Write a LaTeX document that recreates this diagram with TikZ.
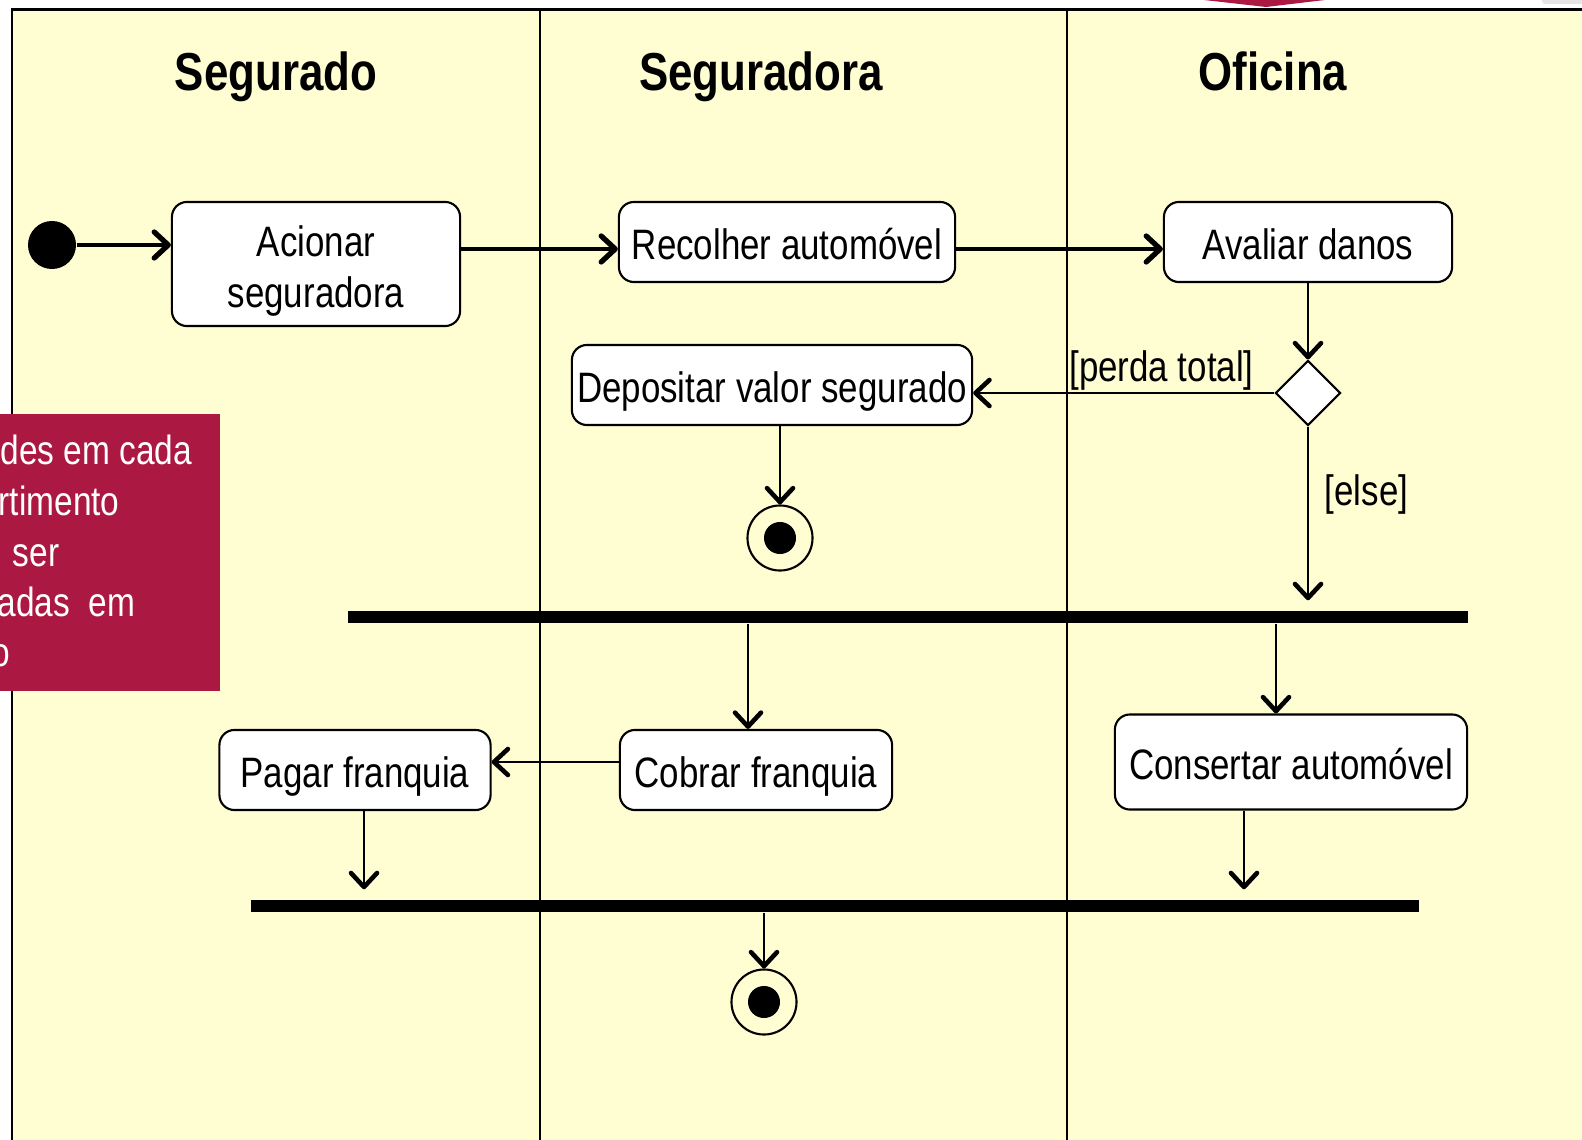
\documentclass[tikz,border=0pt]{standalone}
\usepackage{fontspec}
\setmainfont{Liberation Sans}[FakeStretch=0.82]
\usetikzlibrary{arrows.meta,shapes.geometric}
\definecolor{lanebg}{HTML}{FFFDD2}
\definecolor{notered}{HTML}{AB1942}
\newcommand{\actstrut}{\rule[-2.5pt]{0pt}{15.2pt}}
\tikzset{
  act/.style={draw, rounded corners=0.15cm, fill=white, line width=0.6pt, inner sep=0pt, align=center, font=\fontsize{12.1}{14.3}\selectfont, execute at begin node={\actstrut}},
  flow/.style={-{Straight Barb[length=1.4mm,width=2.6mm,line width=1.3pt,round]}, line width=0.6pt},
  bigflow/.style={-{Straight Barb[length=1.4mm,width=2.6mm,line width=1.5pt,round]}, line width=1pt},
  bar/.style={fill=black, inner sep=0pt, minimum height=0.12cm},
  lane/.style={font=\bfseries\fontsize{15.2}{18}\selectfont, anchor=base},
  guard/.style={font=\fontsize{12.1}{14}\selectfont},
  finalnode/.style={circle, draw, line width=0.6pt, minimum size=0.65cm, inner sep=0pt},
  notetext/.style={anchor=base west, inner sep=0pt, text=white, font=\fontsize{11.6}{14}\selectfont}
}
\begin{document}
\begin{tikzpicture}[x=0.01cm, y=-0.01cm]
            \useasboundingbox (0,0) rectangle (1582,1140);
            \fill[lanebg] (12,10) rectangle (1582,1140);
            \fill[notered] (1204,0) -- (1325,0) -- (1266,7) -- cycle;
            \fill[gray!20, rounded corners=0.03cm] (1542,-5) rectangle (1590,4);
            \draw[line width=0.85pt] (12,1140) -- (12,10) -- (1582,10);
            \draw[line width=0.6pt] (540,10) -- (540,1140);
            \draw[line width=0.6pt] (1067,10) -- (1067,1140);
            \node[lane] (segurado) at (276,91) {Segurado};
            \node[lane] (seguradora) at (761,91) {Seguradora};
            \node[lane] (oficina) at (1273,91) {Oficina};
            \node[circle, fill=black, minimum size=0.48cm, inner sep=0pt] (ini) at (52,245) {};
            \node[act, minimum width=2.88cm, minimum height=1.24cm] (acionar) at (316,264) {\actstrut Acionar\\seguradora};
            \node[act, minimum width=3.36cm, minimum height=0.80cm] (recolher) at (787,242) {Recolher automóvel};
            \node[act, minimum width=2.88cm, minimum height=0.80cm] (avaliar) at (1308,242) {Avaliar danos};
            \node[diamond, draw, fill=white, line width=0.6pt, minimum width=0.65cm, minimum height=0.65cm, inner sep=0pt] (dec) at (1308,393) {};
            \node[act, minimum width=4.0cm, minimum height=0.80cm] (depositar) at (772,385) {Depositar valor segurado};
            \node[finalnode] (fim1) at (780,538) {};
            \fill (fim1) circle (0.16cm);
            \node[bar, minimum width=11.2cm] (fork) at (908,617) {};
            \node[act, minimum width=2.72cm, minimum height=0.80cm] (cobrar) at (756,770) {Cobrar franquia};
            \node[act, minimum width=2.71cm, minimum height=0.80cm] (pagar) at (355,770) {Pagar franquia};
            \node[act, minimum width=3.52cm, minimum height=0.95cm] (consertar) at (1291,762) {Consertar automóvel};
            \node[bar, minimum width=11.67cm] (join) at (835,906) {};
            \node[finalnode] (fim2) at (764,1002) {};
            \fill (fim2) circle (0.16cm);
            \draw[bigflow] (ini) -- (ini -| acionar.west);
            \draw[bigflow] (acionar.east |- 0,249) -- (recolher.west |- 0,249);
            \draw[bigflow] (recolher.east |- 0,249) -- (avaliar.west |- 0,249);
            \draw[flow] (avaliar) -- (dec);
            \draw[flow] (dec.west) -- (dec.west -| depositar.east) node[guard, pos=0, anchor=south east, xshift=-0.08cm, yshift=-0.1cm] {[perda total]};
            \draw[flow] (depositar.south -| fim1) -- (fim1.north);
            \draw[flow, shorten >=0.1cm] (dec.south) -- (dec.south |- fork.north) node[guard, pos=0.37, right=0.04cm] {[else]};
            \draw[flow] ([xshift=-0.08cm]cobrar.north |- fork.south) -- ([xshift=-0.08cm]cobrar.north);
            \draw[flow] ([xshift=-0.15cm]consertar.north |- fork.south) -- ([xshift=-0.15cm]consertar.north);
            \draw[flow] ([yshift=0.08cm]cobrar.west) -- ([yshift=0.08cm]cobrar.west -| pagar.east);
            \draw[flow, shorten >=0.1cm] ([xshift=0.09cm]pagar.south) -- ([xshift=0.09cm]pagar.south |- join.north);
            \draw[flow, shorten >=0.1cm] ([xshift=-0.47cm]consertar.south) -- ([xshift=-0.47cm]consertar.south |- join.north);
            \draw[flow] (join.south -| fim2) -- (fim2.north);
            \fill[notered] (0,414) rectangle (220,691);
            \begin{scope}
              \clip (0,414) rectangle (220,691);
              \node[notetext] (n1) at (0,465) {des em cada};
              \node[notetext] (n2) at (-2,515) {rtimento};
              \node[notetext] (n3) at (12,566) {ser};
              \node[notetext] (n4) at (-3,616) {adas\ \ em};
              \node[notetext] (n5) at (-9,666) {o};
            \end{scope}
        \end{tikzpicture}
\end{document}
